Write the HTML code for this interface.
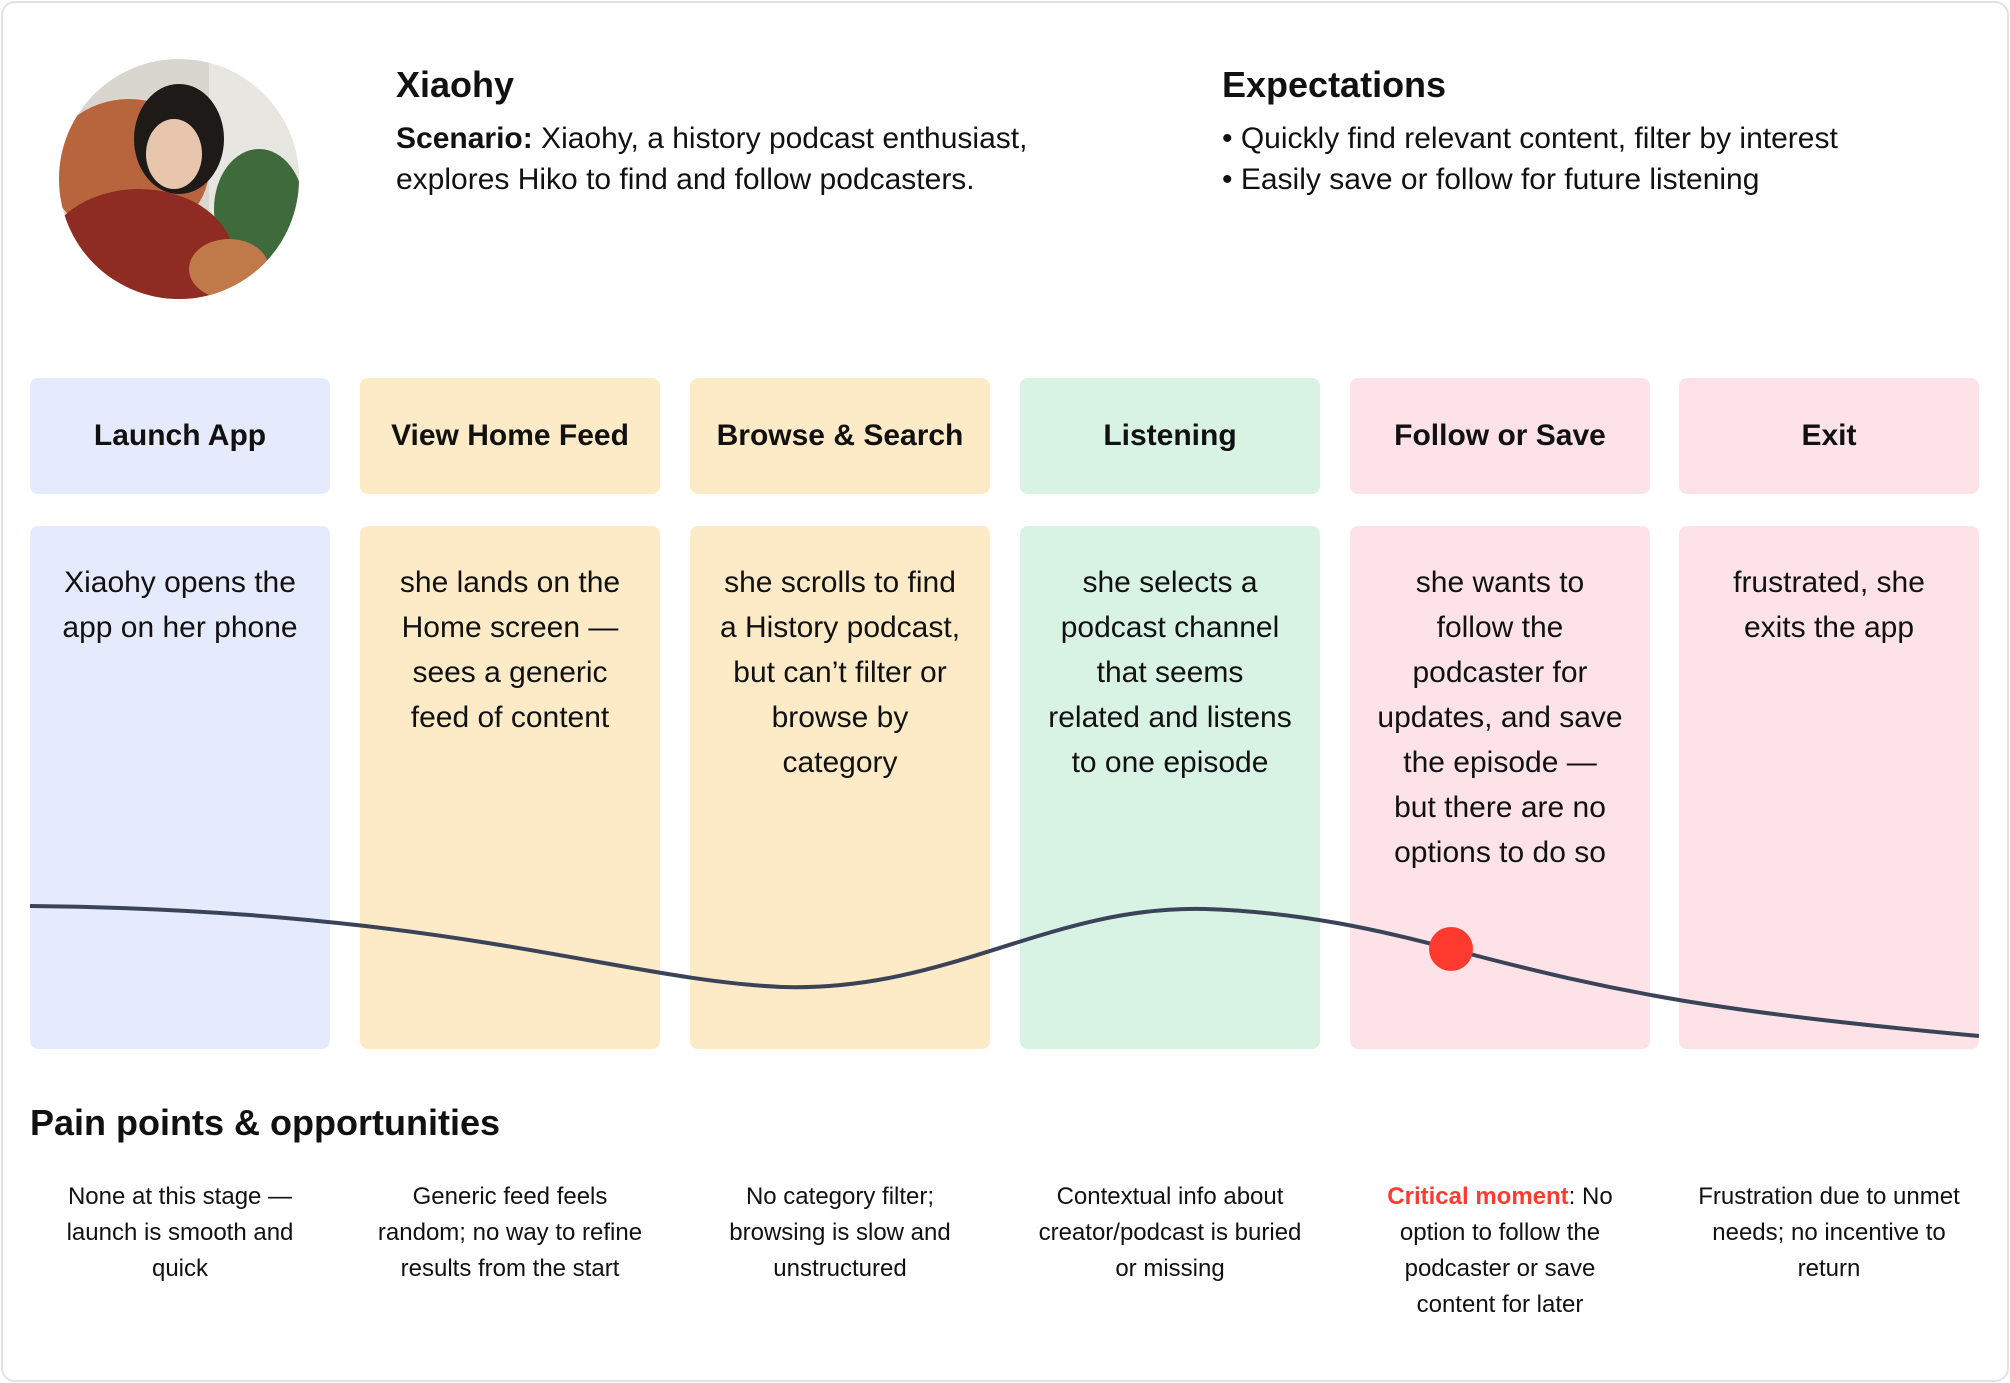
<!DOCTYPE html>
<html><head><meta charset="utf-8"><style>
*{margin:0;padding:0;box-sizing:border-box}
body{width:2010px;height:1383px;background:#fff;font-family:"Liberation Sans","DejaVu Sans",sans-serif;color:#111;position:relative;overflow:hidden}
.frame{position:absolute;left:1px;top:1px;width:2008px;height:1381px;border:2px solid #e2e2e2;border-radius:14px}
.abs{position:absolute}
.h{position:absolute;top:378px;width:300px;height:116px;border-radius:8px;display:flex;align-items:center;justify-content:center;font-weight:bold;font-size:30px}
.b{position:absolute;top:526px;width:300px;height:523px;border-radius:8px;text-align:center;font-size:30px;line-height:45px;padding:34px 0 0;white-space:nowrap}
.p{position:absolute;top:1179px;width:300px;text-align:center;font-size:24px;line-height:36px;white-space:nowrap}
.blue{background:#e5ebfd}.or{background:#fdebc8}.gr{background:#d8f3e3}.pk{background:#fde3e8}
</style></head><body>
<div class="frame"></div>
<svg class="abs" style="left:59px;top:59px" width="240" height="240" viewBox="0 0 240 240">
<defs><clipPath id="c"><circle cx="120" cy="120" r="120"/></clipPath></defs>
<g clip-path="url(#c)">
<rect width="240" height="240" fill="#d9d6cf"/>
<rect x="150" y="0" width="90" height="240" fill="#e8e6e0"/>
<ellipse cx="200" cy="150" rx="45" ry="60" fill="#3f6b3c"/>
<ellipse cx="70" cy="110" rx="80" ry="70" fill="#b8643c"/>
<ellipse cx="120" cy="80" rx="45" ry="55" fill="#1d1a18"/>
<ellipse cx="115" cy="95" rx="28" ry="35" fill="#e8c6ad"/>
<ellipse cx="80" cy="200" rx="95" ry="70" fill="#8e2b22"/>
<ellipse cx="170" cy="210" rx="40" ry="30" fill="#c07a4a"/>
</g></svg>
<div class="abs" style="left:396px;top:64px;font-size:36px;font-weight:bold">Xiaohy</div>
<div class="abs" style="left:396px;top:118px;font-size:30px;line-height:41px"><b>Scenario:</b> Xiaohy, a history podcast enthusiast,<br>explores Hiko to find and follow podcasters.</div>
<div class="abs" style="left:1222px;top:64px;font-size:36px;font-weight:bold">Expectations</div>
<div class="abs" style="left:1222px;top:118px;font-size:30px;line-height:41px">• Quickly find relevant content, filter by interest<br>• Easily save or follow for future listening</div>

<div class="h blue" style="left:30px">Launch App</div>
<div class="h or" style="left:360px">View Home Feed</div>
<div class="h or" style="left:690px">Browse &amp; Search</div>
<div class="h gr" style="left:1020px">Listening</div>
<div class="h pk" style="left:1350px">Follow or Save</div>
<div class="h pk" style="left:1679px">Exit</div>

<div class="b blue" style="left:30px">Xiaohy opens the<br>app on her phone</div>
<div class="b or" style="left:360px">she lands on the<br>Home screen —<br>sees a generic<br>feed of content</div>
<div class="b or" style="left:690px">she scrolls to find<br>a History podcast,<br>but can’t filter or<br>browse by<br>category</div>
<div class="b gr" style="left:1020px">she selects a<br>podcast channel<br>that seems<br>related and listens<br>to one episode</div>
<div class="b pk" style="left:1350px">she wants to<br>follow the<br>podcaster for<br>updates, and save<br>the episode —<br>but there are no<br>options to do so</div>
<div class="b pk" style="left:1679px">frustrated, she<br>exits the app</div>

<svg class="abs" style="left:0;top:0" width="2010" height="1383">
<path d="M30 906 C 450 910, 620 980, 782 987 C 950 992, 1050 905, 1205 909 C 1300 912, 1380 930, 1451 949 C 1620 994, 1720 1012, 1979 1036" fill="none" stroke="#3a4358" stroke-width="4"/>
<circle cx="1451" cy="949" r="22" fill="#ff3b30"/>
</svg>

<div class="abs" style="left:30px;top:1102px;font-size:36px;font-weight:bold">Pain points &amp; opportunities</div>
<div class="p" style="left:30px">None at this stage —<br>launch is smooth and<br>quick</div>
<div class="p" style="left:360px">Generic feed feels<br>random; no way to refine<br>results from the start</div>
<div class="p" style="left:690px">No category filter;<br>browsing is slow and<br>unstructured</div>
<div class="p" style="left:1020px">Contextual info about<br>creator/podcast is buried<br>or missing</div>
<div class="p" style="left:1350px"><b style="color:#ff3b30">Critical moment</b>: No<br>option to follow the<br>podcaster or save<br>content for later</div>
<div class="p" style="left:1679px">Frustration due to unmet<br>needs; no incentive to<br>return</div>
</body></html>
